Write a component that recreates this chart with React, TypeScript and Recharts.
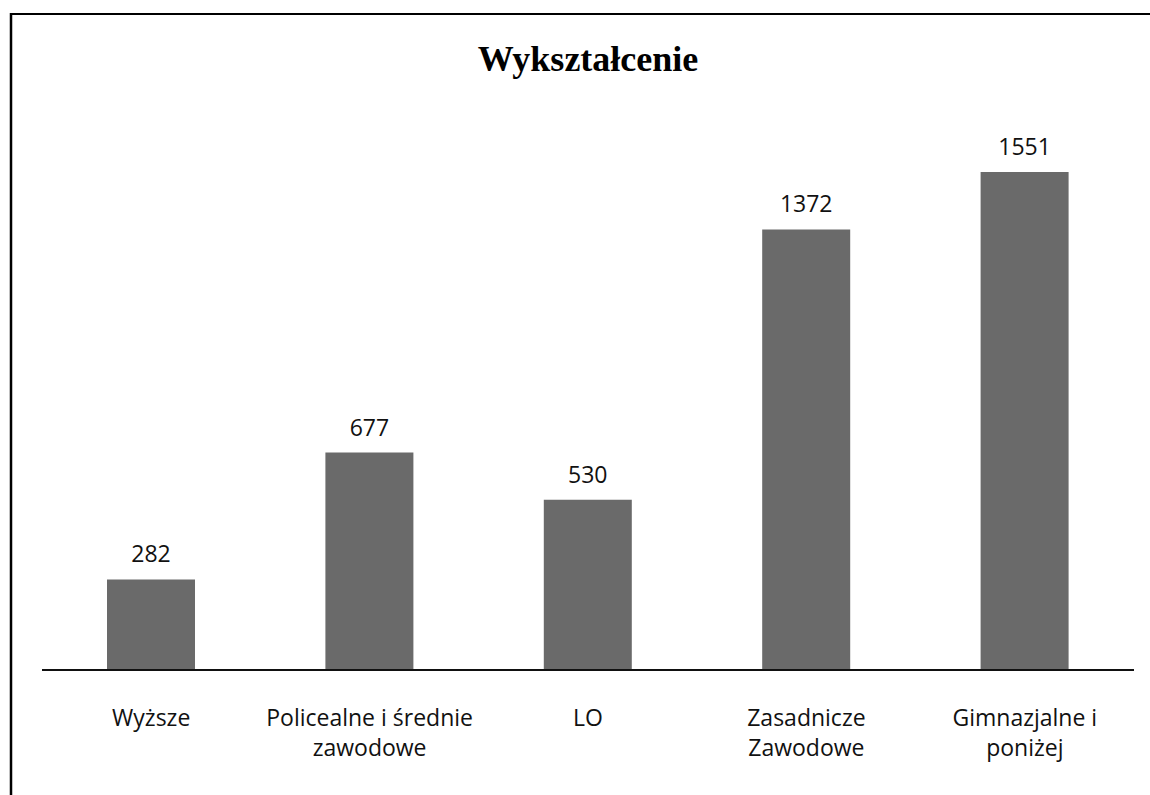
import { BarChart, Bar, XAxis, YAxis, LabelList } from "recharts";

const categories = [
  "Wyższe",
  "Policealne i średnie\nzawodowe",
  "LO",
  "Zasadnicze\nZawodowe",
  "Gimnazjalne i\nponiżej",
];
const values = [282, 677, 530, 1372, 1551];

const data = categories.map((c, i) => ({ name: c, value: values[i] }));

const labelFont = "'Open Sans', 'DejaVu Sans', sans-serif";

function CategoryTick(props: any) {
  const { x, y, payload } = props;
  const lines = String(payload.value).split("\n");
  return (
    <g>
      {lines.map((line, i) => (
        <text
          key={i}
          x={x}
          y={y + 48 + i * 30}
          textAnchor="middle"
          fontFamily={labelFont}
          fontSize={23}
          fill="#111"
        >
          {line}
        </text>
      ))}
    </g>
  );
}

export default function App() {
  return (
    <div style={{ position: "absolute", left: 0, top: 0, width: 1150, height: 795, background: "#fff" }}>
      <BarChart
        width={1150}
        height={795}
        data={data}
        margin={{ top: 92, right: 16, bottom: 25, left: 42 }}
      >
        <XAxis
          dataKey="name"
          height={100}
          axisLine={{ stroke: "#111", strokeWidth: 2 }}
          tickLine={false}
          interval={0}
          tick={<CategoryTick />}
        />
        <YAxis hide domain={[0, 1800]} />
        <Bar dataKey="value" fill="#6a6a6a" barSize={88} isAnimationActive={false}>
          <LabelList
            dataKey="value"
            position="top"
            offset={17}
            fontFamily={labelFont}
            fontSize={23}
            fill="#111"
          />
        </Bar>
      </BarChart>
      <svg
        width={1150}
        height={795}
        style={{ position: "absolute", left: 0, top: 0, pointerEvents: "none" }}
      >
        <text
          x={588}
          y={71}
          textAnchor="middle"
          fontFamily="'Liberation Serif', 'Times New Roman', serif"
          fontWeight="bold"
          fontSize={36}
          fill="#000"
        >
          Wykształcenie
        </text>
        <line x1={11} y1={14} x2={1150} y2={14} stroke="#000" strokeWidth={2} />
        <line x1={11} y1={13} x2={11} y2={795} stroke="#000" strokeWidth={2.5} />
      </svg>
    </div>
  );
}
